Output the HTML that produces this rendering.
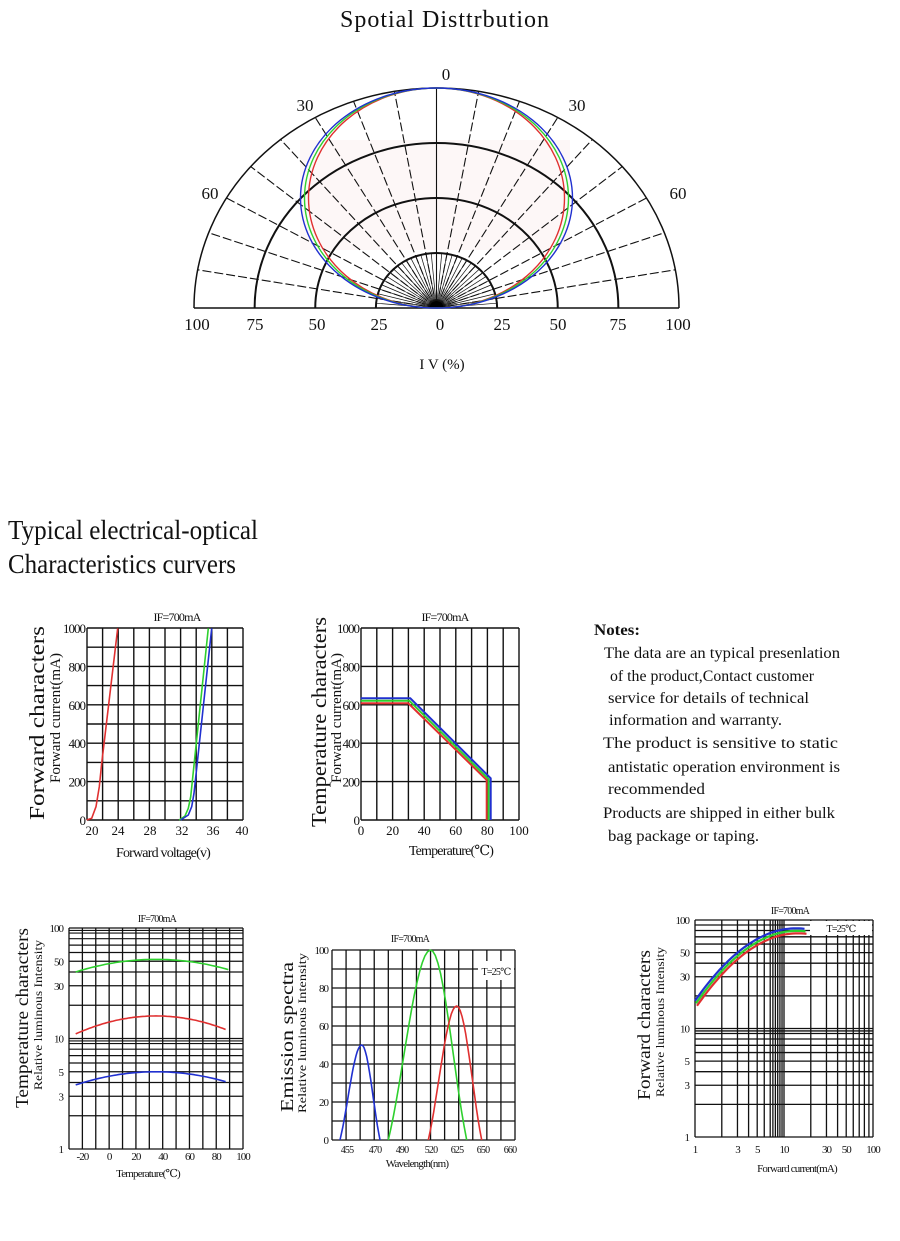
<!DOCTYPE html>
<html><head><meta charset="utf-8"><style>
html,body{margin:0;padding:0;background:#fff}
svg{display:block}
text{font-family:"Liberation Serif","DejaVu Serif",serif;fill:#111}
</style></head><body>
<svg id="s" width="900" height="1241" viewBox="0 0 900 1241" xmlns="http://www.w3.org/2000/svg">
<text x="445" y="27" font-size="24" text-anchor="middle" letter-spacing="1">Spotial Disttrbution</text>
<text x="8" y="539" font-size="27" textLength="250" lengthAdjust="spacingAndGlyphs">Typical electrical-optical</text>
<text x="8" y="573" font-size="27" textLength="228" lengthAdjust="spacingAndGlyphs">Characteristics curvers</text>
<text x="594" y="635" font-size="16" font-weight="bold" textLength="46" lengthAdjust="spacingAndGlyphs">Notes:</text>
<text x="604" y="658" font-size="16" textLength="236" lengthAdjust="spacingAndGlyphs">The data are an typical presenlation</text>
<text x="610" y="681" font-size="16" textLength="204" lengthAdjust="spacingAndGlyphs">of the product,Contact customer</text>
<text x="608" y="703" font-size="16" textLength="201" lengthAdjust="spacingAndGlyphs">service for details of technical</text>
<text x="609" y="725" font-size="16" textLength="173" lengthAdjust="spacingAndGlyphs">information and warranty.</text>
<text x="603" y="748" font-size="16" textLength="235" lengthAdjust="spacingAndGlyphs">The product is sensitive to static</text>
<text x="608" y="772" font-size="16" textLength="232" lengthAdjust="spacingAndGlyphs">antistatic operation environment is</text>
<text x="608" y="794" font-size="16" textLength="97" lengthAdjust="spacingAndGlyphs">recommended</text>
<text x="603" y="818" font-size="16" textLength="232" lengthAdjust="spacingAndGlyphs">Products are shipped in either bulk</text>
<text x="608" y="841" font-size="16" textLength="151" lengthAdjust="spacingAndGlyphs">bag package or taping.</text>
</svg>
<script>
var S=document.getElementById('s'),NS='http://www.w3.org/2000/svg';
function el(t,a,txt){var e=document.createElementNS(NS,t);for(var k in a)e.setAttribute(k,a[k]);if(txt!=null)e.textContent=txt;S.appendChild(e);return e;}
function L(x1,y1,x2,y2,w,c,d){var a={x1:x1,y1:y1,x2:x2,y2:y2,stroke:c||'#111','stroke-width':w||1.3};if(d)a['stroke-dasharray']=d;el('line',a);}
function T(x,y,s,sz,an,ex){var a={x:x,y:y,'font-size':sz,'text-anchor':an||'middle'};for(var k in ex||{})a[k]=ex[k];el('text',a,s);}
function P(pts,c,w){el('polyline',{points:pts.map(function(p){return p[0].toFixed(1)+','+p[1].toFixed(1)}).join(' '),fill:'none',stroke:c,'stroke-width':w||1.6});}
function RT(x,y,s,sz,len){var a={x:0,y:0,'font-size':sz,'text-anchor':'middle',transform:'translate('+x+','+y+') rotate(-90)'};if(len){a.textLength=len;a.lengthAdjust='spacingAndGlyphs';}el('text',a,s);}
var RED='#e03030',GRN='#2ed02e',BLU='#2030d0';

/* ---------- polar ---------- */
var cx=436.5,cy=308,rx=242.5,ry=220;
el('rect',{x:300,y:140,width:270,height:110,fill:'#fbeaea',opacity:0.4});
[0.25,0.5,0.75,1].forEach(function(f){el('path',{d:'M'+(cx-rx*f)+','+cy+' A'+(rx*f)+','+(ry*f)+' 0 0 1 '+(cx+rx*f)+','+cy,fill:'none',stroke:'#111','stroke-width':f==1?1.5:2});});
L(cx-rx,cy,cx+rx,cy,1.6);
for(var a=-80;a<=80;a+=10){var r=a*Math.PI/180;L(cx,cy,cx+rx*Math.sin(r),cy-ry*Math.cos(r),1.1,'#111',a==0?null:'9,3');}
for(var a=-85;a<=85;a+=5){var r=a*Math.PI/180;L(cx,cy,cx+rx*0.25*Math.sin(r),cy-ry*0.25*Math.cos(r),0.7);}
el('path',{d:'M'+(cx-7)+','+cy+' A7,7 0 0 1 '+(cx+7)+','+cy+'Z',fill:'#000'});
[[128,RED],[132,GRN],[136,BLU]].forEach(function(q){el('ellipse',{cx:cx,cy:cy-110,rx:q[0],ry:110,fill:'none',stroke:q[1],'stroke-width':1.4});});
var pl=[[197,'100'],[255,'75'],[317,'50'],[379,'25'],[440,'0'],[502,'25'],[558,'50'],[618,'75'],[678,'100']];
pl.forEach(function(p){T(p[0],330,p[1],17);});
T(446,80,'0',17);T(305,111,'30',17);T(577,111,'30',17);T(210,199,'60',17);T(678,199,'60',17);
T(442,369,'I V (%)',15);

/* ---------- chart 1 forward voltage ---------- */
var X0=87,X1=243,Y0=628,Y1=820;
for(var i=0;i<=10;i++){var x=X0+(X1-X0)*i/10;L(x,Y0,x,Y1,1.4);var y=Y0+(Y1-Y0)*i/10;L(X0,y,X1,y,1.4);}
function z1(p){return [20+p[0]/3,600+p[1]/3];}
P([[200,660],[215,655],[228,620],[238,560],[245,490],[293,85]].map(z1),RED);
P([[478,660],[495,648],[505,625],[512,590],[565,85]].map(z1),GRN);
P([[482,660],[505,645],[515,620],[522,580],[575,85]].map(z1),BLU);
['0','200','400','600','800','1000'].forEach(function(s,i){T(85,Y1-i*(Y1-Y0)/5+5,s,13,'end',{'letter-spacing':'-1'});});
[[92,'20'],[118,'24'],[150,'28'],[182,'32'],[213,'36'],[242,'40']].forEach(function(p){T(p[0],835,p[1],13);});
T(177,621,'IF=700mA',12,'middle',{'letter-spacing':'-0.8'});
RT(44,723,'Forward characters',21,194);RT(60,718,'Forward current(mA)',15,130);
T(163,857,'Forward voltage(v)',14,'middle',{'letter-spacing':'-0.8'});

/* ---------- chart 2 temperature ---------- */
X0=361;X1=519;
for(var i=0;i<=10;i++){var x=X0+(X1-X0)*i/10;L(x,Y0,x,Y1,1.4);}
for(var i=0;i<=5;i++){var y=Y0+(Y1-Y0)*i/5;L(X0,y,X1,y,1.4);}
function z2(p){return [20+p[0]/3,600+p[1]/3];}
P([[1022,310],[1165,310],[1400,540],[1400,660]].map(z2),RED,2);
P([[1022,302],[1168,302],[1406,538],[1406,660]].map(z2),GRN,2);
P([[1022,295],[1171,295],[1412,535],[1412,660]].map(z2),BLU,2);
['0','200','400','600','800','1000'].forEach(function(s,i){T(359,Y1-i*(Y1-Y0)/5+5,s,13,'end',{'letter-spacing':'-1'});});
['0','20','40','60','80','100'].forEach(function(s,i){T(X0+i*(X1-X0)/5,835,s,13);});
T(445,621,'IF=700mA',12,'middle',{'letter-spacing':'-0.8'});
RT(326,722,'Temperature characters',21,210);RT(341,718,'Forward current(mA)',15,130);
T(451,855,'Temperature(℃)',14,'middle',{'letter-spacing':'-0.8'});

/* ---------- chart 3 temperature log ---------- */
X0=69;X1=243;Y0=928;Y1=1149;
function ly(v){return Y1-(Y1-Y0)*Math.log10(v)/2;}
for(var i=0;i<=13;i++){var x=X0+(X1-X0)*i/13;L(x,Y0,x,Y1,1.3);}
[1,2,3,4,5,6,7,8,9,10,20,30,40,50,60,70,80,90,100].forEach(function(v){L(X0,ly(v),X1,ly(v),1.2);});
L(X0,ly(9.5),X1,ly(9.5),1.2);L(X0,ly(95),X1,ly(95),1.2);
function tx3(t){return X0+(t+30)*(X1-X0)/130;}
function arc3(e,pk,t0,t1){var p=[];var lE=Math.log10(e),lP=Math.log10(pk);for(var t=t0;t<=t1;t+=2){var u=(t-35)/(t0<-20?60:55);p.push([tx3(t),ly(Math.pow(10,lP-(lP-lE)*u*u))]);}return p;}
P(arc3(40,52,-25,90),GRN);P(arc3(11,16,-25,88),RED);P(arc3(3.8,5,-25,88),BLU);
[['100',100],['50',50],['30',30],['10',10],['5',5],['3',3],['1',1]].forEach(function(p){T(63,ly(p[1])+4,p[0],11,'end',{'letter-spacing':'-1'});});
[-20,0,20,40,60,80,100].forEach(function(t){T(tx3(t),1160,String(t),11,'middle',{'letter-spacing':'-1'});});
T(157,922,'IF=700mA',10,'middle',{'letter-spacing':'-0.8'});
RT(28,1018,'Temperature characters',18,180);RT(42,1015,'Relative luminous Intensity',12,150);
T(148,1177,'Temperature(℃)',11,'middle',{'letter-spacing':'-0.8'});

/* ---------- chart 4 emission ---------- */
X0=332;X1=515;Y0=950;Y1=1140;
for(var i=0;i<=13;i++){var x=X0+(X1-X0)*i/13;L(x,Y0,x,Y1,1.3);}
for(var i=0;i<=10;i++){var y=Y0+(Y1-Y0)*i/10;L(X0,y,X1,y,1.3);}
el('rect',{x:478,y:961,width:36,height:19,fill:'#fff'});
T(496,975,'T=25℃',10,'middle',{'letter-spacing':'-0.8'});
function z4(x,y){return [10+x/3,900+y/3];}
function bell(a,pk,b,top){var p=[];for(var i=0;i<=30;i++){var x=a+(b-a)*i/30;var u=(x-pk)/((x<pk)?(pk-a):(b-pk));var h=Math.cos(u*Math.PI/2);h=h*h*0.4+h*0.6;p.push(z4(x,720-(720-top)*h));}return p;}
P(bell(990,1055,1110,435),BLU);P(bell(1135,1262,1370,150),GRN);P(bell(1255,1340,1415,318),RED);
['0','20','40','60','80','100'].forEach(function(s,i){T(328,Y1-i*(Y1-Y0)/5+4,s,11,'end',{'letter-spacing':'-1'});});
[[347,'455'],[375,'470'],[402,'490'],[431,'520'],[457,'625'],[483,'650'],[510,'660']].forEach(function(p){T(p[0],1153,p[1],10,'middle',{'letter-spacing':'-0.8'});});
T(410,942,'IF=700mA',10,'middle',{'letter-spacing':'-0.8'});
RT(293,1037,'Emission spectra',18,150);RT(306,1033,'Relative luminous Intensity',12,160);
T(417,1167,'Wavelength(nm)',11,'middle',{'letter-spacing':'-0.8'});

/* ---------- chart 5 forward current log-log ---------- */
X0=695;X1=873;Y0=920;Y1=1137;
function lx5(v){return X0+(X1-X0)*Math.log10(v)/2;}
function ly5(v){return Y1-(Y1-Y0)*Math.log10(v)/2;}
[1,2,3,4,5,6,7,7.5,8,8.5,9,9.5,10,20,30,40,50,60,70,80,90,100].forEach(function(v){L(lx5(v),Y0,lx5(v),Y1,1.3);});
[1,2,3,4,5,6,7,8,9,9.5,10,20,30,40,50,60,70,80,90,100].forEach(function(v){L(X0,ly5(v),X1,ly5(v),1.3);});
el('rect',{x:810,y:921,width:62,height:14,fill:'#fff'});
T(841,932,'T=25℃',10,'middle',{'letter-spacing':'-0.8'});
function curve(dx,dy){var p=[];for(var i=0;i<=40;i++){var u=1.23*i/40;var w=1.255+1.178*u-0.519*u*u;p.push([X0+(X1-X0)*u/2+dx,Y1-(Y1-Y0)*w/2+dy]);}return p;}
P(curve(2,5),RED,2.2);P(curve(1,2.5),GRN,2.2);P(curve(0,0),BLU,2.2);
[['100',100],['50',50],['30',30],['10',10],['5',5],['3',3],['1',1]].forEach(function(p){T(689,ly5(p[1])+4,p[0],11,'end',{'letter-spacing':'-1'});});
[1,3,5,10,30,50,100].forEach(function(v){T(lx5(v),1153,String(v),11,'middle',{'letter-spacing':'-1'});});
T(790,914,'IF=700mA',10,'middle',{'letter-spacing':'-0.8'});
RT(650,1025,'Forward characters',18,150);RT(664,1022,'Relative luminous Intensity',12,150);
T(797,1172,'Forward current(mA)',11,'middle',{'letter-spacing':'-0.8'});
</script>
</body></html>
